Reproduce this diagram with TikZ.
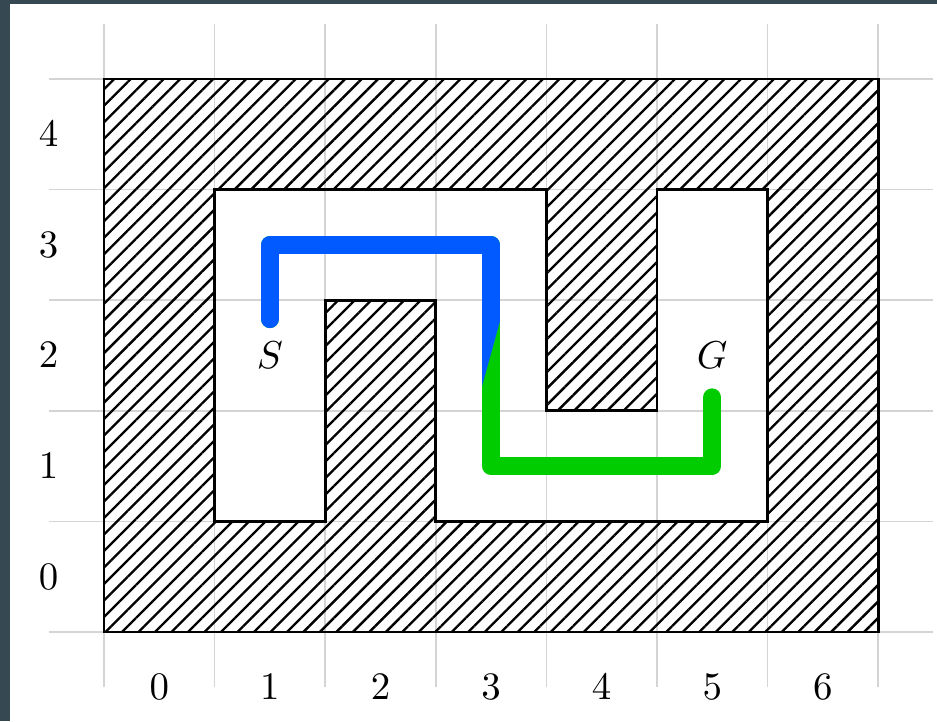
\documentclass[tikz,border=0pt]{standalone}
\usepackage{amsmath,amssymb}
\usepackage{xcolor}
\usepackage{tikz}
\usetikzlibrary{positioning,patterns.meta}
\definecolor{frameslate}{RGB}{54,72,82}
\definecolor{routeblue}{RGB}{0,90,255}
\definecolor{routegreen}{RGB}{0,204,0}
\tikzset{
gridline/.style={
draw=black!17,
line width=0.4pt
},
wall/.style={
pattern={Lines[angle=45,distance=3pt,line width=0.6pt]},
pattern color=black
},
outline/.style={
draw=black,
line width=0.7pt
},
route/.style={
line width=4.7pt,
line cap=round,
line join=round
},
tick/.style={
inner sep=0pt
}
}

\begin{document}
\begin{tikzpicture}

\useasboundingbox (-0.940,-0.805) rectangle (7.532,5.714);
\fill[frameslate] (-0.940,-0.805) rectangle (7.532,5.714);
\fill[white] (-0.850,-0.805) rectangle (7.532,5.678);

\draw[gridline] (-0.5,-0.5) grid (7.5,5.5);

\foreach \x in {0,...,6}
\node[tick](col\x) at (\x+0.5,-0.5){$\x$};

\foreach \y in {0,...,4}
\node[tick](row\y) at (-0.5,\y+0.5){$\y$};

% walls of the maze
\fill[wall,even odd rule] (0,0) rectangle (7,5)
(1,4) -- (4,4) -- (4,2) -- (5,2) -- (5,4) -- (6,4) -- (6,1) -- (3,1) -- (3,3) -- (2,3) -- (2,1) -- (1,1) -- cycle;
\draw[outline] (0,0) rectangle (7,5);
\draw[outline] (1,4) -- (4,4) -- (4,2) -- (5,2) -- (5,4) -- (6,4) -- (6,1) -- (3,1) -- (3,3) -- (2,3) -- (2,1) -- (1,1) -- cycle;

\node(S) at (1.5,2.5){$S$};
\node(G) at (5.5,2.5){$G$};

\coordinate(start) at (1.5,2.83);
\coordinate(goal) at (5.5,2.12);

\draw[route,routegreen] (start) |- (3.5,3.5) -- (3.5,1.5) -| (goal);
\begin{scope}
\clip (0,1) -- (3.08,1) -- (3.91,4) -- (0,4) -- cycle;
\draw[route,routeblue] (start) |- (3.5,3.5) -- (3.5,1.5) -| (goal);
\end{scope}

\end{tikzpicture}
\end{document}
